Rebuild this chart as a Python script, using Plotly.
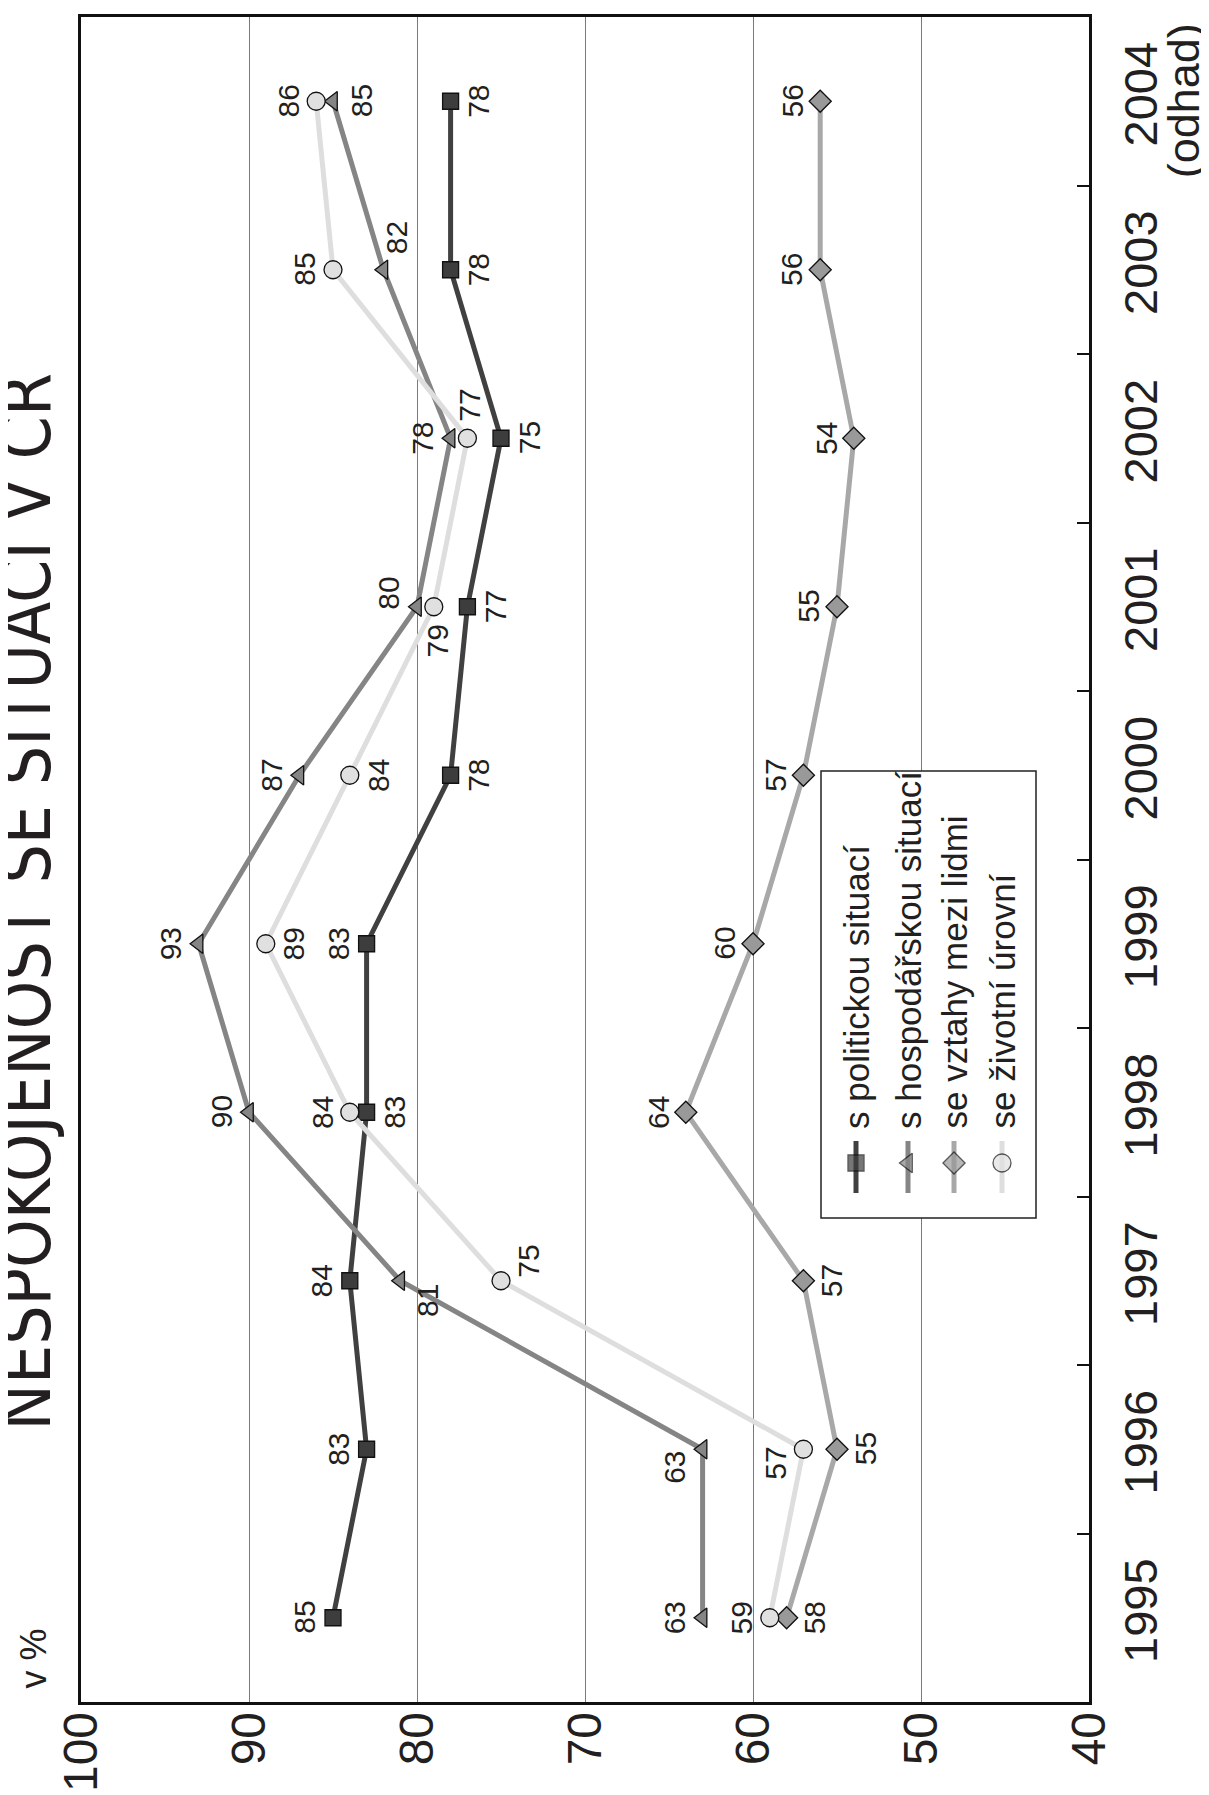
import plotly.graph_objects as go

# ---------------- data ----------------
years = ["1995", "1996", "1997", "1998", "1999", "2000", "2001", "2002", "2003", "2004"]
estimate_note = "(odhad)"  # note under the last year
politicka = [85, 83, 84, 83, 83, 78, 77, 75, 78, 78]
hospodarska = [63, 63, 81, 90, 93, 87, 80, 78, 82, 85]
vztahy = [58, 55, 57, 64, 60, 57, 55, 54, 56, 56]
zivotni = [59, 57, 75, 84, 89, 84, 79, 77, 85, 86]
series_names = ["s politickou situací", "s hospodářskou situací",
                "se vztahy mezi lidmi", "se životní úrovní"]
value_ticks = [100, 90, 80, 70, 60, 50, 40]

# ---------------- layout constants ----------------
W, H = 1209, 1795
L, T = 73, 9
PW, PH = 1008, 1685
R, B = W - L - PW, H - T - PH
FONT = "Liberation Sans, Arial, Helvetica, sans-serif"
TXT = "#231f20"
XMAX, XMIN = 100, 40
NCAT = len(years)


def xp(px):
    return (px - L) / PW


def yp(py):
    return (H - B - py) / PH


def xv(px):  # pixel -> value-axis coordinate (decoration only)
    return XMAX - (px - L) / PW * (XMAX - XMIN)


def yv(py):  # pixel -> category-index coordinate (decoration only)
    return (H - B - py) / PH * NCAT - 0.5


styles = [
    dict(line="#404040", fill="#3d3d3d", symbol="square", size=16),
    dict(line="#858585", fill="#858585", symbol="triangle-left", size=17),
    dict(line="#a8a8a8", fill="#999999", symbol="diamond", size=17),
    dict(line="#dedede", fill="#e0e0e0", symbol="circle", size=18),
]

# label offsets (screen px): (dx, dy) dy positive = down
D = 28
label_offsets = [
    [(-D, 0), (-D, 0), (-D, 0), (D, 0), (-D, 0), (D, 0), (D, 0), (D, 0), (D, 0), (D, 0)],
    [(-D, 0), (-D, 18), (D, 20), (-D, 0), (-D, 0), (-D, 0), (-D, -13), (-D, 0), (13, -32), (D, 0)],
    [(D, 0), (D, 0), (D, 0), (-D, 0), (-D, 0), (-D, 0), (-D, 0), (-D, 0), (-D, 0), (-D, 0)],
    [(-D, 0), (-D, 14), (D, -19), (-D, 0), (D, 0), (D, 0), (4, 34), (2, -33), (-D, 0), (-D, 0)],
]

fig = go.Figure()
all_series = [politicka, hospodarska, vztahy, zivotni]
for name, vals, st in zip(series_names, all_series, styles):
    fig.add_trace(go.Scatter(
        x=vals, y=years, mode="lines+markers", name=name,
        line=dict(color=st["line"], width=5),
        marker=dict(symbol=st["symbol"], size=st["size"], color=st["fill"],
                    line=dict(color="#111111", width=1.3)),
        showlegend=False, cliponaxis=False,
    ))

annotations = []
for vals, offs in zip(all_series, label_offsets):
    for i, (v, (dx, dy)) in enumerate(zip(vals, offs)):
        annotations.append(dict(
            x=v, y=i, xref="x", yref="y", text=str(v), showarrow=False,
            textangle=-90, xshift=dx, yshift=-dy,
            font=dict(family=FONT, size=30, color=TXT),
        ))

# "(odhad)" under the last year label
annotations.append(dict(
    x=xp(1175), y=NCAT - 1, xref="paper", yref="y", xanchor="center", yanchor="middle",
    text=estimate_note, showarrow=False, textangle=-90,
    font=dict(family=FONT, size=45, color=TXT),
))

# title and unit
annotations.append(dict(
    x=xp(59), y=yp(894), xref="paper", yref="paper", xanchor="right", yanchor="middle",
    text="NESPOKOJENOST SE SITUACÍ V ČR", showarrow=False, textangle=-90,
    font=dict(family="Liberation Sans Narrow, DejaVu Sans Condensed, sans-serif", size=69, color=TXT),
))
annotations.append(dict(
    x=xp(47), y=yp(1650), xref="paper", yref="paper", xanchor="right", yanchor="middle",
    text="v %", showarrow=False, textangle=-90,
    font=dict(family=FONT, size=36, color=TXT),
))

# legend (drawn manually because the chart is rotated)
leg_cols = [L + 775, L + 827, L + 873, L + 921]
shapes = [dict(type="rect", xref="x", yref="y", x0=xv(L + 740), x1=xv(L + 955),
               y0=yv(T + 754), y1=yv(T + 1201),
               line=dict(color="#222222", width=1.5), fillcolor="white", layer="between")]
for cx, st, name in zip(leg_cols, styles, series_names):
    shapes.append(dict(type="line", xref="x", yref="y", x0=xv(cx), x1=xv(cx),
                       y0=yv(T + 1124), y1=yv(T + 1176),
                       line=dict(color=st["line"], width=5), layer="between"))
    annotations.append(dict(
        x=xp(cx), y=yp(T + 1114), xref="paper", yref="paper", xanchor="center", yanchor="bottom",
        text=name, showarrow=False, textangle=-90,
        font=dict(family=FONT, size=35, color=TXT),
    ))
fig.add_trace(go.Scatter(
    x=leg_cols, y=[T + 1146] * 4, xaxis="x2", yaxis="y2", mode="markers",
    marker=dict(symbol=[s["symbol"] for s in styles], size=[s["size"] for s in styles],
                color=[s["fill"] for s in styles], line=dict(color="#111111", width=1.3)),
    showlegend=False, hoverinfo="skip", cliponaxis=False,
))

fig.update_layout(
    width=W, height=H, margin=dict(l=L, r=R, t=T, b=B, pad=0, autoexpand=False),
    paper_bgcolor="white", plot_bgcolor="white",
    showlegend=False, annotations=annotations, shapes=shapes,
    xaxis=dict(range=[XMAX, XMIN], tickvals=value_ticks, ticktext=[str(v) for v in value_ticks],
               tickangle=-90, tickfont=dict(family=FONT, size=48, color=TXT),
               showgrid=True, gridcolor="#7a7a7a", gridwidth=1.3,
               showline=True, mirror=True, linecolor="#111111", linewidth=2.5,
               ticks="", zeroline=False, ticklabelstandoff=-12, automargin=False),
    yaxis=dict(type="category", categoryarray=years, categoryorder="array",
               range=[-0.5, NCAT - 0.5], side="right", tickangle=-90,
               tickfont=dict(family=FONT, size=47, color=TXT),
               tickson="boundaries", ticks="inside", ticklen=12, tickcolor="#111111", tickwidth=1.5,
               showgrid=False, showline=True, mirror=True, linecolor="#111111", linewidth=2.5,
               ticklabelstandoff=9, automargin=False),
    xaxis2=dict(range=[L, L + PW], domain=[0, 1], overlaying="x", visible=False,
                fixedrange=True, automargin=False),
    yaxis2=dict(range=[T + PH, T], domain=[0, 1], overlaying="y", visible=False,
                fixedrange=True, automargin=False),
)

fig.write_html("out.html")
